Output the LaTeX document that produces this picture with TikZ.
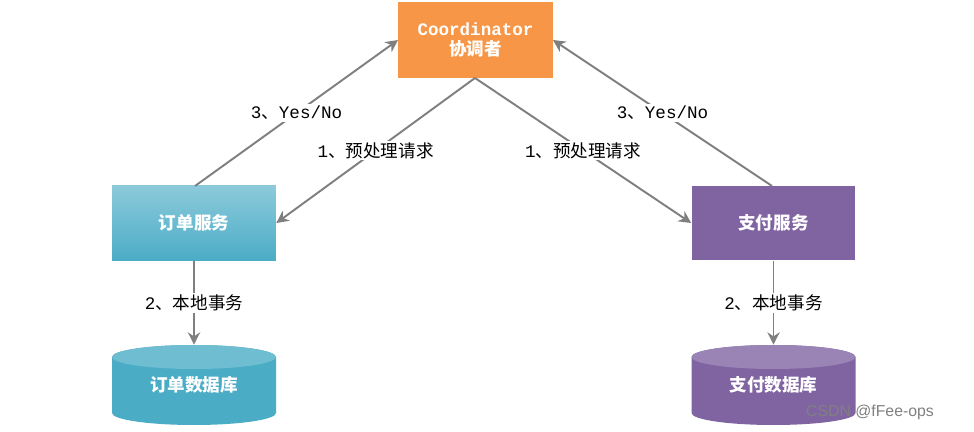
\documentclass[tikz,border=0pt]{standalone}
\usepackage{fontspec}
\setmainfont{Liberation Mono}
\newfontfamily\cjk{Noto Sans CJK SC}
\newfontfamily\wm{Liberation Sans}
\usetikzlibrary{arrows.meta}
\definecolor{orangeC}{HTML}{F79646}
\definecolor{blueC}{HTML}{4BACC6}
\definecolor{blueL}{HTML}{8CCADB}
\definecolor{purpleC}{HTML}{8064A2}
\definecolor{arrC}{HTML}{7F7F7F}
\begin{document}
\begin{tikzpicture}[x=0.02cm,y=-0.02cm,
  box/.style={draw=none,minimum width=3.28cm,minimum height=1.5cm,text=white,font=\cjk\bfseries\fontsize{10}{12}\selectfont},
  conn/.style={draw=arrC,line width=1.1pt,-{Stealth[length=7pt,width=7pt]}},
  lab/.style={font=\fontsize{10}{12}\selectfont,fill=white,inner sep=1pt}]
\useasboundingbox (0,0) rectangle (974,432);
\node[box,fill=orangeC,minimum width=3.1cm,minimum height=1.52cm,align=center] (co) at (475.5,40) {\bfseries\fontspec{Liberation Mono}Coordinator\\[-1pt]\cjk\bfseries 协调者};
\node[box,top color=blueL,bottom color=blueC] (os) at (194,223) {订单服务};
\node[box,fill=purpleC] (ps) at (773.5,223) {支付服务};
% cylinders
\foreach \cx/\c/\n/\t in {194/blueC/odb/订单数据库,773.5/purpleC/pdb/支付数据库}{
  \fill[\c] (\cx-82,357) -- (\cx-82,413) arc[start angle=180,end angle=0,x radius=82,y radius=12] -- (\cx+82,357) arc[start angle=0,end angle=-180,x radius=82,y radius=12];
  \fill[\c!80!white] (\cx,357) ellipse[x radius=82,y radius=12];
  \node[minimum width=3.28cm,minimum height=1.6cm,text=white,font=\cjk\bfseries\fontsize{10}{12}\selectfont] (\n) at (\cx,385) {\raisebox{-4pt}{\t}};
}
\coordinate (coL) at (398,40);
\coordinate (coR) at (553,40);
\coordinate (coB) at (475,78);
\coordinate (osT) at (195,186);
\coordinate (psT) at (772,186);
\draw[conn] (osT) -- (coL) node[lab,pos=0.5] {3{\cjk 、}Yes/No};
\draw[conn] (psT) -- (coR) node[lab,pos=0.5] {3{\cjk 、}Yes/No};
\draw[conn] (coB) -- (os.east) node[lab,pos=0.5] {1{\cjk 、预处理请求}};
\draw[conn] (coB) -- (ps.west) node[lab,pos=0.5] {1{\cjk 、预处理请求}};
\draw[conn] (os.south) -- (odb.north) node[lab,pos=0.5] {2{\cjk 、本地事务}};
\draw[conn] (ps.south) -- (pdb.north) node[lab,pos=0.5] {2{\cjk 、本地事务}};
\node[text=gray,font=\wm\fontsize{9}{10}\selectfont] (wm) at (870,412) {CSDN @fFee-ops};
\end{tikzpicture}
\end{document}
